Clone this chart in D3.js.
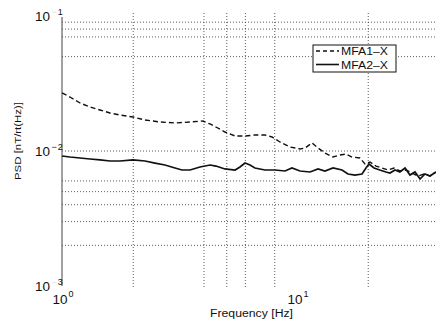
<!DOCTYPE html>
<html>
<head>
<meta charset="utf-8">
<script src="https://cdn.jsdelivr.net/npm/d3@7"></script>
<style>
  body { margin: 0; background: #fff; }
  text { font-family: "Liberation Sans", Arial, sans-serif; fill: #111; }
  .grid line { stroke: #333; stroke-width: 0.8; stroke-dasharray: 1,2; }
  .grid path { display: none; }
</style>
</head>
<body>
<div id="chart"></div>
<script>
const width = 436;
const height = 325;

// series (Hz, nT/rt(Hz))
const mfa1Freq = [1.000, 1.081, 1.193, 1.316, 1.451, 1.600, 1.765, 2.005, 2.256, 2.612,
  3.027, 3.505, 3.98, 4.264, 4.521, 4.937, 5.45, 6.01, 6.62, 7.31,
  7.826, 8.467, 9.337, 10.30, 10.82, 11.58, 12.29, 13.15, 14.23, 15.24,
  16.16, 17.14, 18.54, 19.47, 20.45, 21.69, 23.0, 24.39, 25.87, 27.4,
  29.1, 30.86, 32.7, 34.7, 36.8, 39.0];
const mfa1Psd = [0.02667, 0.02490, 0.02249, 0.02100, 0.01995, 0.01896, 0.01832, 0.01770, 0.01683, 0.01626,
  0.01600, 0.01626, 0.01654, 0.01572, 0.01493, 0.01371, 0.01281, 0.01281, 0.01303, 0.01303,
  0.01259, 0.01156, 0.01062, 0.01026, 0.01043, 0.01137, 0.01043, 0.00958, 0.00895, 0.00926,
  0.00942, 0.00895, 0.00880, 0.00794, 0.00822, 0.00767, 0.00742, 0.00717, 0.00742, 0.00705,
  0.00717, 0.00681, 0.00647, 0.00670, 0.00647, 0.00693];

const mfa2Freq = [1.000, 1.081, 1.193, 1.316, 1.451, 1.600, 1.765, 2.005, 2.256, 2.487,
  2.742, 3.027, 3.240, 3.505, 3.867, 4.264, 4.521, 4.937, 5.45, 5.72,
  6.01, 6.31, 6.62, 7.31, 8.06, 8.89, 9.52, 10.30, 11.36, 12.29,
  13.15, 14.23, 15.54, 16.48, 17.65, 18.91, 19.66, 20.25, 21.27, 22.5,
  23.91, 24.87, 26.12, 27.4, 28.82, 30.26, 31.77, 33.4, 35.04, 36.8, 39.0];
const mfa2Psd = [0.00910, 0.00895, 0.00880, 0.00865, 0.00851, 0.00836, 0.00836, 0.00851, 0.00836, 0.00807,
  0.00781, 0.00742, 0.00717, 0.00717, 0.00755, 0.00781, 0.00767, 0.00730, 0.00717, 0.00755,
  0.00807, 0.00781, 0.00742, 0.00717, 0.00717, 0.00705, 0.00742, 0.00705, 0.00693, 0.00730,
  0.00705, 0.00742, 0.00717, 0.00670, 0.00658, 0.00670, 0.00742, 0.00794, 0.00742, 0.00717,
  0.00693, 0.00681, 0.00717, 0.00693, 0.00742, 0.00658, 0.00693, 0.00615, 0.00670, 0.00647, 0.00693];

const seriesNames = ["MFA1\u2013X", "MFA2\u2013X"];

// ticks / grid
const xTickValues = [1, 10];
const xTickExp = ["0", "1"];
const yTickValues = [0.1, 0.01, 0.001];
const yTickExp = ["1", "2", "3"];
const xGridValues = [2, 4, 5, 6, 8, 20];
const yGridValues = [0.09, 0.08, 0.07, 0.05, 0.01, 0.006, 0.005, 0.004, 0.003, 0.002];

const svg = d3.select("#chart")
  .append("svg")
  .attr("width", width)
  .attr("height", height);

svg.append("rect").attr("width", width).attr("height", height).attr("fill", "#fff");

const x = d3.scaleLog().domain([1, 10]).range([62, 297]);
const y = d3.scaleLog().domain([0.001, 0.1]).range([285.5, 15.5]);

// grid
svg.append("g")
  .attr("class", "grid")
  .attr("transform", "translate(0,287)")
  .call(d3.axisBottom(x).tickValues(xGridValues).tickSize(-274).tickFormat(""));

svg.append("g")
  .attr("class", "grid")
  .attr("transform", "translate(62,0)")
  .call(d3.axisLeft(y).tickValues(yGridValues).tickSize(-(width - 62)).tickFormat(""));

// left axis line
svg.append("line")
  .attr("x1", 62).attr("x2", 62)
  .attr("y1", 17).attr("y2", 286)
  .attr("stroke", "#555")
  .attr("stroke-width", 1.1);

// lines
const line = d3.line()
  .x(d => x(d[0]))
  .y(d => y(d[1]));

svg.append("path")
  .datum(d3.zip(mfa1Freq, mfa1Psd))
  .attr("d", line)
  .attr("fill", "none")
  .attr("stroke", "#111")
  .attr("stroke-width", 1.4)
  .attr("stroke-dasharray", "5,3");

svg.append("path")
  .datum(d3.zip(mfa2Freq, mfa2Psd))
  .attr("d", line)
  .attr("fill", "none")
  .attr("stroke", "#111")
  .attr("stroke-width", 1.7);

// tick labels
xTickValues.forEach((v, i) => {
  svg.append("text")
    .attr("x", x(v) + 5.5)
    .attr("y", 304)
    .attr("text-anchor", "end")
    .attr("textLength", 15)
    .attr("lengthAdjust", "spacingAndGlyphs")
    .style("font-size", "12px")
    .text("10");
  svg.append("text")
    .attr("x", x(v) + 6.5)
    .attr("y", 297)
    .style("font-size", "9px")
    .text(xTickExp[i]);
});

yTickValues.forEach((v, i) => {
  svg.append("text")
    .attr("x", 50)
    .attr("y", y(v) + 5.5)
    .attr("text-anchor", "end")
    .attr("textLength", 15)
    .attr("lengthAdjust", "spacingAndGlyphs")
    .style("font-size", "12px")
    .text("10");
  const sup = svg.append("text")
    .attr("x", 51.5)
    .attr("y", y(v) - 1)
    .style("font-size", "9px");
  sup.append("tspan")
    .style("fill", i === 1 ? "#111" : "#ddd")
    .text("\u2212");
  sup.append("tspan")
    .attr("dx", 1)
    .text(yTickExp[i]);
});

// axis titles
svg.append("text")
  .attr("x", 210)
  .attr("y", 317)
  .attr("textLength", 83)
  .attr("lengthAdjust", "spacingAndGlyphs")
  .style("font-size", "10px")
  .text("Frequency [Hz]");

svg.append("text")
  .attr("transform", "translate(21,180) rotate(-90)")
  .attr("textLength", 78)
  .attr("lengthAdjust", "spacingAndGlyphs")
  .style("font-size", "9.5px")
  .text("PSD [nT/rt(Hz)]");

// legend
const legend = svg.append("g").attr("transform", "translate(313,45)");

legend.append("rect")
  .attr("width", 83)
  .attr("height", 27)
  .attr("fill", "#fff")
  .attr("stroke", "#111")
  .attr("stroke-width", 1);

seriesNames.forEach((name, i) => {
  const yy = 6 + i * 13.5;
  legend.append("line")
    .attr("x1", 3).attr("x2", 26)
    .attr("y1", yy).attr("y2", yy)
    .attr("stroke", "#111")
    .attr("stroke-width", i === 0 ? 1.3 : 1.6)
    .attr("stroke-dasharray", i === 0 ? "4,3" : null);
  legend.append("text")
    .attr("x", 28)
    .attr("y", yy + 4)
    .attr("textLength", 47)
    .attr("lengthAdjust", "spacingAndGlyphs")
    .style("font-size", "10.5px")
    .text(name);
});
</script>
</body>
</html>
